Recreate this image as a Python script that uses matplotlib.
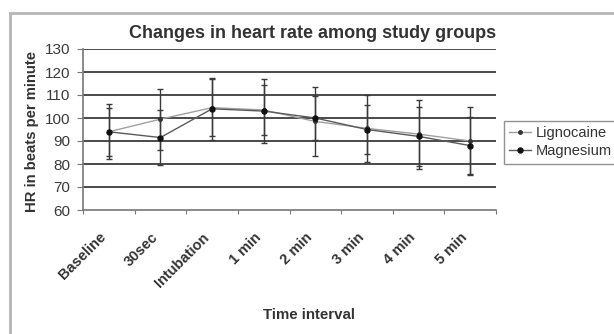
import numpy as np
import matplotlib
matplotlib.use("Agg")
import matplotlib.pyplot as plt
from matplotlib.patches import Rectangle
from matplotlib.lines import Line2D
import matplotlib.transforms as mtransforms

plt.rcParams['font.family'] = ['Liberation Sans', 'DejaVu Sans']

categories = ['Baseline', '30sec', 'Intubation', '1 min', '2 min', '3 min', '4 min', '5 min']
lignocaine = [94, 99.5, 104.5, 103.5, 98.5, 95.5, 93, 90]
lignocaine_sd = [12, 13.3, 12.5, 11, 15, 14.5, 15, 14.7]
magnesium = [94, 91.5, 104, 103, 100, 95, 92, 88]
magnesium_sd = [10.5, 12, 13.5, 14, 9.5, 10.6, 13, 12.5]
yticks = [60, 70, 80, 90, 100, 110, 120, 130]

fig = plt.figure(figsize=(6.14, 3.34), dpi=100)
ax = fig.add_axes([83/614, 1-210/334, (496-83)/614, (210-49)/334])

x = np.arange(len(categories))

for yv in yticks[1:]:
    ax.axhline(yv, color='#4a4a4a', lw=1.4, zorder=1)

ax.errorbar(x, lignocaine, yerr=lignocaine_sd, color='#a0a0a0', lw=1.0,
            marker='o', ms=2.5, mfc='#333333', mec='#333333',
            ecolor='#3a3a3a', elinewidth=1.0, capsize=2.2, capthick=1.0, zorder=3)
ax.errorbar(x, magnesium, yerr=magnesium_sd, color='#5a5a5a', lw=1.0,
            marker='o', ms=3.6, mfc='#111111', mec='#111111',
            ecolor='#3a3a3a', elinewidth=1.0, capsize=2.2, capthick=1.0, zorder=3)

ax.set_xlim(-0.5, len(categories) - 0.5)
ax.set_ylim(60, 130)
ax.set_yticks(yticks)
ax.set_xticks(np.arange(-0.5, len(categories)))
ax.set_xticklabels([])
ax.tick_params(axis='x', length=3, color='#777777', direction='out')
ax.tick_params(axis='y', length=4, color='#777777', labelsize=11, labelcolor='#3a3a3a', pad=5)

# slanted category labels, ending just left of each category centre
offset = mtransforms.ScaledTranslation(-10/100, -20/100, fig.dpi_scale_trans)
for xi, name in zip(x, categories):
    ax.text(xi, 0, name, transform=ax.get_xaxis_transform() + offset,
            rotation=45, ha='right', va='top', rotation_mode='anchor',
            fontsize=10.5, fontweight='bold', color='#333333')

for s in ['top', 'right']:
    ax.spines[s].set_visible(False)
for s in ['left', 'bottom']:
    ax.spines[s].set_color('#777777')
    ax.spines[s].set_linewidth(1.2)

fig.text(313/614, 1-34/334, 'Changes in heart rate among study groups',
         ha='center', va='center', fontsize=13, fontweight='bold', color='#333333')
fig.text(32/614, 1-131/334, 'HR in beats per minute', rotation=90,
         ha='center', va='center', fontsize=10.7, fontweight='bold', color='#333333')
fig.text(309/614, 1-315/334, 'Time interval',
         ha='center', va='center', fontsize=10.8, fontweight='bold', color='#333333')

handles = [Line2D([], [], color='#a0a0a0', lw=1.0, marker='o', ms=2.5,
                  mfc='#333333', mec='#333333'),
           Line2D([], [], color='#5a5a5a', lw=1.0, marker='o', ms=3.6,
                  mfc='#111111', mec='#111111')]
leg = fig.legend(handles, ['Lignocaine', 'Magnesium'], loc='upper left',
                 bbox_to_anchor=(504/614, 1-121/334),
                 fontsize=10.5, frameon=True, fancybox=False, edgecolor='#777777',
                 handlelength=1.5, handletextpad=0.3, borderpad=0.35,
                 labelspacing=0.3, borderaxespad=0)
leg.get_frame().set_linewidth(1.0)
for t in leg.get_texts():
    t.set_color('#333333')

fig.patches.append(Rectangle((9.5/614, -0.05), 1.1, 1-13/334+0.05,
                             transform=fig.transFigure, fill=False,
                             edgecolor='#b5b5b5', lw=2, clip_on=False))

fig.savefig('out.png', dpi=100)
